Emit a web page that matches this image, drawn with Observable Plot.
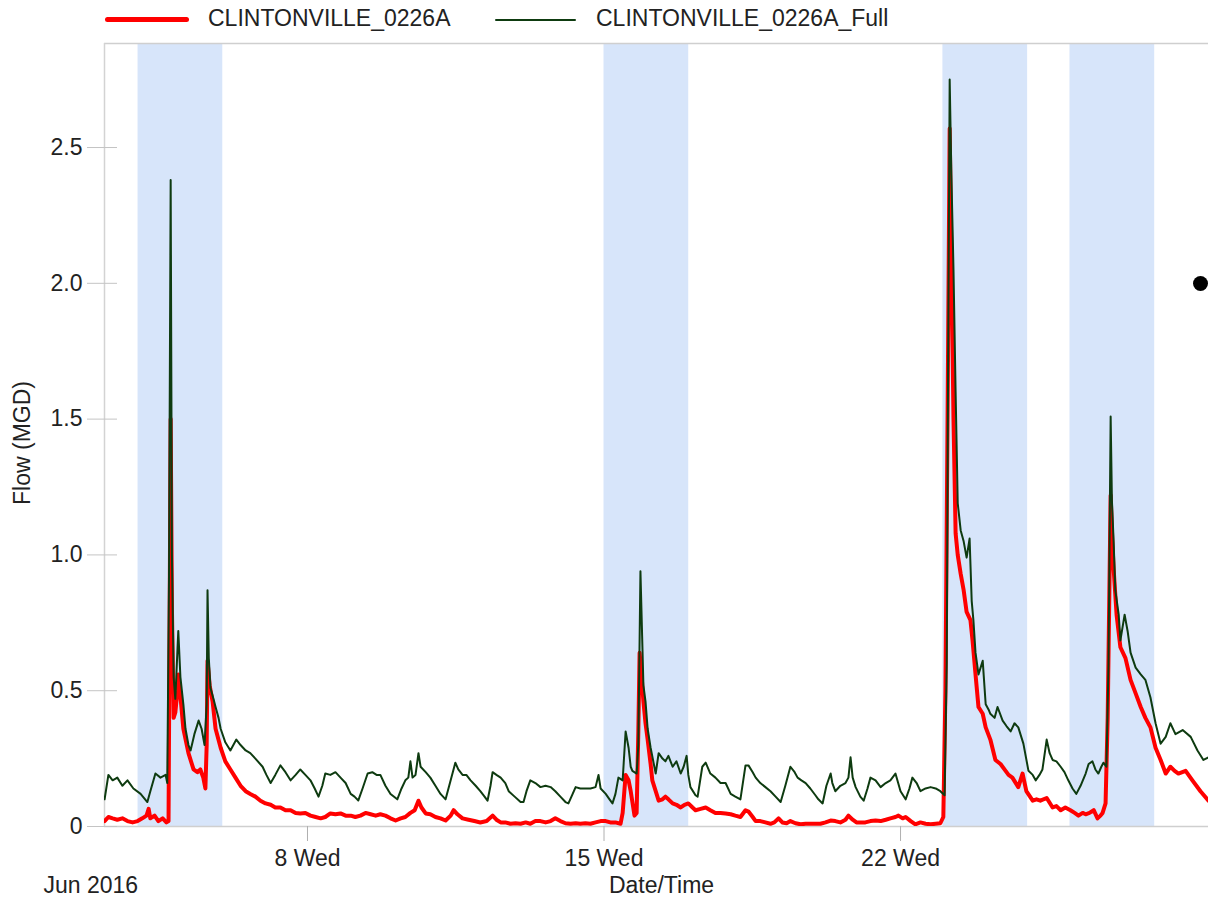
<!DOCTYPE html>
<html><head><meta charset="utf-8">
<script src="https://cdn.jsdelivr.net/npm/d3@7"></script>
<script src="https://cdn.jsdelivr.net/npm/@observablehq/plot@0.6"></script>
<style>
html,body{margin:0;padding:0;background:#fff;overflow:hidden;}
body{width:1208px;height:899px;position:relative;font-family:"Liberation Sans",Arial,sans-serif;color:#222;}
#legend{position:relative;height:36px;}
.sw{position:absolute;border-radius:3px;}
.lt{position:absolute;top:6.5px;font-size:23px;line-height:23px;white-space:nowrap;color:#222;}
#bullet{position:absolute;left:1193px;top:276px;width:15px;height:15px;border-radius:50%;background:#000;}
</style></head><body>
<div id="legend"></div>
<div id="chart"></div>
<div id="bullet"></div>
<script>
const seriesNames = ["CLINTONVILLE_0226A", "CLINTONVILLE_0226A_Full"];
const seriesColors = ["#ff0000", "#0e3b10"];
const tickDays = [8, 15, 22];
const tickLabels = ["8 Wed", "15 Wed", "22 Wed"];
const yTicks = [0, 0.5, 1.0, 1.5, 2.0, 2.5];
const yTickLabels = ["0", "0.5", "1.0", "1.5", "2.0", "2.5"];
const bandStarts = [4, 15, 23, 26];
const bandEnds = [6, 17, 25, 28];
const xDomainDays = [3.208, 29.27];
const yDomain = [0, 2.883];

// day of June (decimal) and flow (MGD)
const redDays = [3.21,3.30,3.40,3.51,3.63,3.75,3.87,3.99,4.10,4.20,4.25,4.29,4.39,4.48,4.58,4.67,4.72,4.74,4.77,4.80,4.84,4.88,4.93,4.95,5.00,5.07,5.19,5.31,5.40,5.47,5.54,5.59,5.62,5.64,5.69,5.76,5.83,5.95,6.06,6.18,6.30,6.42,6.54,6.65,6.77,6.89,7.01,7.13,7.24,7.36,7.48,7.60,7.72,7.83,7.95,8.07,8.19,8.31,8.42,8.54,8.66,8.78,8.90,9.02,9.13,9.25,9.37,9.49,9.61,9.72,9.84,9.96,10.08,10.20,10.31,10.43,10.53,10.62,10.69,10.79,10.90,11.02,11.14,11.26,11.38,11.45,11.54,11.66,11.80,11.94,12.08,12.23,12.37,12.46,12.56,12.67,12.79,12.91,13.03,13.15,13.26,13.38,13.50,13.62,13.74,13.85,13.97,14.09,14.21,14.33,14.44,14.56,14.68,14.80,14.92,15.04,15.15,15.27,15.39,15.44,15.51,15.58,15.63,15.67,15.72,15.77,15.81,15.84,15.89,15.93,15.98,16.03,16.10,16.14,16.22,16.29,16.38,16.45,16.52,16.62,16.71,16.81,16.90,16.99,17.09,17.16,17.28,17.40,17.51,17.63,17.75,17.87,17.99,18.10,18.22,18.34,18.41,18.51,18.58,18.69,18.81,18.93,19.02,19.12,19.21,19.31,19.40,19.52,19.64,19.76,19.87,19.99,20.11,20.23,20.35,20.46,20.58,20.70,20.77,20.87,20.96,21.05,21.17,21.29,21.41,21.53,21.65,21.76,21.88,21.95,22.05,22.12,22.24,22.35,22.47,22.59,22.71,22.83,22.94,23.01,23.06,23.11,23.16,23.20,23.25,23.30,23.35,23.42,23.49,23.56,23.65,23.70,23.77,23.84,23.94,24.01,24.12,24.24,24.36,24.48,24.55,24.64,24.78,24.88,24.97,25.12,25.21,25.30,25.45,25.59,25.68,25.78,25.89,26.01,26.11,26.20,26.30,26.37,26.46,26.56,26.65,26.72,26.77,26.84,26.89,26.96,27.00,27.03,27.10,27.19,27.31,27.43,27.55,27.67,27.78,27.90,28.02,28.14,28.26,28.37,28.47,28.56,28.73,28.89,29.08,29.27];
const redFlow = [0.02,0.035,0.03,0.025,0.03,0.02,0.015,0.02,0.03,0.04,0.065,0.03,0.04,0.02,0.03,0.015,0.02,0.6,1.5,0.8,0.40,0.42,0.5,0.56,0.48,0.36,0.27,0.21,0.20,0.21,0.18,0.14,0.3,0.61,0.52,0.46,0.36,0.29,0.24,0.21,0.18,0.15,0.13,0.12,0.11,0.095,0.085,0.08,0.07,0.07,0.06,0.06,0.05,0.048,0.05,0.04,0.035,0.03,0.035,0.048,0.045,0.048,0.04,0.04,0.035,0.04,0.05,0.045,0.04,0.045,0.04,0.03,0.022,0.03,0.035,0.05,0.06,0.095,0.07,0.048,0.045,0.035,0.03,0.022,0.04,0.06,0.045,0.03,0.025,0.02,0.015,0.02,0.04,0.025,0.015,0.015,0.01,0.012,0.01,0.015,0.01,0.02,0.02,0.015,0.02,0.03,0.02,0.012,0.01,0.012,0.01,0.012,0.01,0.015,0.02,0.02,0.015,0.015,0.01,0.05,0.19,0.17,0.13,0.09,0.04,0.05,0.35,0.64,0.55,0.46,0.38,0.32,0.23,0.17,0.13,0.095,0.10,0.11,0.10,0.085,0.08,0.07,0.08,0.085,0.07,0.06,0.065,0.07,0.06,0.05,0.05,0.048,0.045,0.04,0.035,0.06,0.055,0.035,0.02,0.02,0.015,0.01,0.015,0.03,0.015,0.012,0.02,0.012,0.008,0.01,0.01,0.01,0.01,0.015,0.022,0.02,0.015,0.025,0.04,0.025,0.015,0.015,0.015,0.02,0.022,0.02,0.025,0.03,0.035,0.04,0.03,0.035,0.02,0.008,0.015,0.01,0.008,0.01,0.012,0.035,0.5,1.5,2.57,2.1,1.5,1.08,1.0,0.93,0.87,0.79,0.76,0.685,0.56,0.44,0.415,0.365,0.32,0.245,0.23,0.205,0.19,0.18,0.145,0.195,0.13,0.095,0.10,0.095,0.105,0.07,0.075,0.06,0.07,0.06,0.05,0.04,0.05,0.045,0.05,0.06,0.03,0.04,0.05,0.085,0.4,1.22,1.05,0.95,0.78,0.66,0.62,0.54,0.49,0.44,0.40,0.365,0.29,0.245,0.195,0.22,0.205,0.195,0.205,0.17,0.13,0.095];

const fullDays = [3.21,3.30,3.40,3.51,3.63,3.75,3.89,4.06,4.22,4.29,4.41,4.53,4.65,4.69,4.73,4.77,4.80,4.84,4.88,4.93,4.95,5.00,5.07,5.12,5.19,5.24,5.33,5.43,5.50,5.57,5.62,5.64,5.67,5.71,5.78,5.83,5.90,5.95,6.06,6.18,6.32,6.42,6.54,6.65,6.77,6.94,7.03,7.13,7.24,7.36,7.48,7.60,7.72,7.83,7.95,8.07,8.17,8.26,8.35,8.42,8.54,8.66,8.78,8.90,9.02,9.11,9.20,9.30,9.42,9.53,9.63,9.72,9.84,9.96,10.12,10.22,10.31,10.38,10.43,10.48,10.55,10.62,10.67,10.79,10.90,11.02,11.14,11.26,11.38,11.49,11.56,11.66,11.75,11.85,11.97,12.08,12.18,12.25,12.32,12.37,12.46,12.56,12.67,12.75,12.89,13.03,13.10,13.17,13.26,13.38,13.50,13.62,13.74,13.85,13.97,14.09,14.16,14.26,14.33,14.44,14.56,14.68,14.80,14.87,14.92,15.04,15.13,15.20,15.27,15.34,15.44,15.51,15.58,15.63,15.67,15.77,15.81,15.86,15.90,15.93,15.98,16.03,16.10,16.22,16.29,16.38,16.45,16.52,16.62,16.71,16.81,16.88,16.95,16.99,17.04,17.16,17.21,17.32,17.40,17.51,17.63,17.75,17.87,17.99,18.10,18.22,18.34,18.41,18.51,18.58,18.69,18.81,18.93,19.05,19.17,19.28,19.40,19.50,19.57,19.66,19.76,19.87,19.99,20.06,20.16,20.25,20.35,20.39,20.46,20.58,20.70,20.77,20.82,20.87,20.94,21.05,21.13,21.22,21.29,21.41,21.53,21.65,21.76,21.88,22.00,22.12,22.21,22.28,22.38,22.47,22.59,22.71,22.83,22.94,23.04,23.09,23.12,23.16,23.20,23.25,23.30,23.35,23.42,23.49,23.56,23.63,23.68,23.72,23.77,23.84,23.94,24.01,24.08,24.12,24.22,24.29,24.41,24.50,24.60,24.69,24.78,24.90,25.02,25.12,25.19,25.28,25.35,25.45,25.52,25.59,25.68,25.78,25.87,25.96,26.06,26.15,26.25,26.37,26.44,26.53,26.60,26.67,26.74,26.79,26.86,26.91,26.96,26.99,27.03,27.07,27.15,27.19,27.29,27.36,27.43,27.55,27.67,27.78,27.90,28.02,28.14,28.26,28.37,28.49,28.66,28.85,29.01,29.15,29.27];
const fullFlow = [0.10,0.19,0.17,0.18,0.15,0.17,0.14,0.12,0.09,0.13,0.195,0.18,0.19,0.16,0.9,2.38,1.0,0.55,0.47,0.65,0.72,0.55,0.45,0.36,0.30,0.28,0.34,0.39,0.36,0.30,0.45,0.87,0.62,0.51,0.47,0.44,0.40,0.36,0.31,0.28,0.32,0.30,0.28,0.27,0.25,0.22,0.19,0.16,0.19,0.225,0.20,0.17,0.19,0.21,0.19,0.17,0.14,0.11,0.15,0.195,0.19,0.20,0.18,0.16,0.12,0.11,0.096,0.14,0.195,0.20,0.19,0.19,0.15,0.12,0.10,0.14,0.17,0.18,0.24,0.18,0.19,0.27,0.22,0.20,0.18,0.15,0.12,0.10,0.17,0.235,0.21,0.19,0.19,0.17,0.15,0.13,0.11,0.095,0.15,0.20,0.19,0.18,0.16,0.13,0.11,0.09,0.09,0.13,0.17,0.16,0.145,0.15,0.145,0.13,0.11,0.09,0.085,0.12,0.145,0.14,0.14,0.14,0.145,0.19,0.14,0.12,0.10,0.085,0.12,0.18,0.17,0.35,0.29,0.22,0.205,0.195,0.3,0.94,0.7,0.52,0.46,0.36,0.29,0.195,0.27,0.25,0.24,0.26,0.22,0.24,0.195,0.22,0.26,0.19,0.145,0.115,0.11,0.22,0.235,0.195,0.18,0.16,0.16,0.12,0.11,0.10,0.225,0.225,0.20,0.18,0.16,0.145,0.13,0.11,0.09,0.15,0.22,0.20,0.18,0.17,0.16,0.14,0.115,0.10,0.085,0.15,0.195,0.16,0.13,0.15,0.16,0.18,0.255,0.18,0.145,0.11,0.095,0.14,0.18,0.17,0.145,0.16,0.17,0.195,0.13,0.10,0.14,0.18,0.16,0.13,0.14,0.145,0.14,0.13,0.115,0.6,1.6,2.75,2.4,2.05,1.6,1.19,1.09,1.05,0.99,1.06,0.83,0.76,0.64,0.56,0.61,0.45,0.43,0.415,0.40,0.44,0.39,0.37,0.35,0.38,0.365,0.305,0.205,0.19,0.17,0.19,0.21,0.32,0.27,0.245,0.24,0.22,0.20,0.17,0.14,0.12,0.15,0.195,0.23,0.24,0.21,0.195,0.22,0.235,0.22,0.6,1.51,1.2,1.05,0.87,0.78,0.685,0.78,0.72,0.64,0.585,0.56,0.54,0.475,0.38,0.305,0.33,0.38,0.34,0.355,0.33,0.28,0.245,0.255];

const toDate = d => new Date(Date.UTC(2016, 5, 1) + (d - 1) * 864e5);
const red = redDays.map((d, i) => ({t: toDate(d), v: redFlow[i]}));
const full = fullDays.map((d, i) => ({t: toDate(d), v: fullFlow[i]}));
const bands = bandStarts.map((s, i) => ({start: toDate(s), end: toDate(bandEnds[i])}));
const xTickDates = tickDays.map(toDate);
const xDomain = xDomainDays.map(toDate);

// legend
const legend = document.getElementById("legend");
const legendSpec = [
  {swLeft: 105, swWidth: 84, swTop: 17, swHeight: 5, textLeft: 208},
  {swLeft: 495, swWidth: 81, swTop: 18.5, swHeight: 2, textLeft: 596}
];
seriesNames.forEach((name, i) => {
  const s = legendSpec[i];
  const sw = document.createElement("div");
  sw.className = "sw";
  Object.assign(sw.style, {left: s.swLeft + "px", width: s.swWidth + "px", top: s.swTop + "px", height: s.swHeight + "px", background: seriesColors[i]});
  legend.appendChild(sw);
  const tx = document.createElement("div");
  tx.className = "lt";
  tx.style.left = s.textLeft + "px";
  tx.textContent = name;
  legend.appendChild(tx);
});

const font = '"Liberation Sans", Arial, sans-serif';
const chart = Plot.plot({
  width: 1208,
  height: 863,
  marginLeft: 104,
  marginRight: 0,
  marginTop: 7,
  marginBottom: 73,
  style: {fontFamily: font, fontSize: "23px", color: "#222", background: "#fff", overflow: "visible"},
  x: {type: "utc", domain: xDomain},
  y: {domain: yDomain},
  marks: [
    Plot.rect(bands, {x1: "start", x2: "end", fill: "#d7e5fa"}),
    Plot.ruleY([yDomain[1]], {stroke: "#cfcfcf", strokeWidth: 1.5}),
    Plot.ruleX([xDomain[0]], {stroke: "#d3d3d3", strokeWidth: 1.5}),
    Plot.ruleY([0], {stroke: "#cfcfcf", strokeWidth: 1.5}),
    Plot.axisY(yTicks, {tickFormat: d => yTickLabels[yTicks.indexOf(d)], tickSize: 30, tickPadding: 5, dx: 13, stroke: "#c4c4c4", fill: "#222", label: null, fontSize: 23}),
    Plot.axisX(xTickDates, {tickFormat: d => tickLabels[xTickDates.findIndex(t => +t === +d)], tickSize: 15, tickPadding: 8, stroke: "#b0b0b0", fill: "#222", label: null, fontSize: 23}),
    Plot.line(red, {x: "t", y: "v", stroke: seriesColors[0], strokeWidth: 4, strokeLinejoin: "round", clip: true}),
    Plot.line(full, {x: "t", y: "v", stroke: seriesColors[1], strokeWidth: 2, strokeLinejoin: "round", clip: true}),
    Plot.text(["Flow (MGD)"], {frameAnchor: "left", textAnchor: "middle", rotate: -90, dx: -82, dy: 8, fontSize: 23, fill: "#222"}),
    Plot.text(["Jun 2016"], {frameAnchor: "bottom-left", textAnchor: "start", lineAnchor: "middle", dx: -61, dy: 59, fontSize: 23, fill: "#222"}),
    Plot.text(["Date/Time"], {frameAnchor: "bottom", textAnchor: "middle", lineAnchor: "middle", dx: 5, dy: 59, fontSize: 23, fill: "#222"})
  ]
});
document.getElementById("chart").appendChild(chart);
</script>
</body></html>
